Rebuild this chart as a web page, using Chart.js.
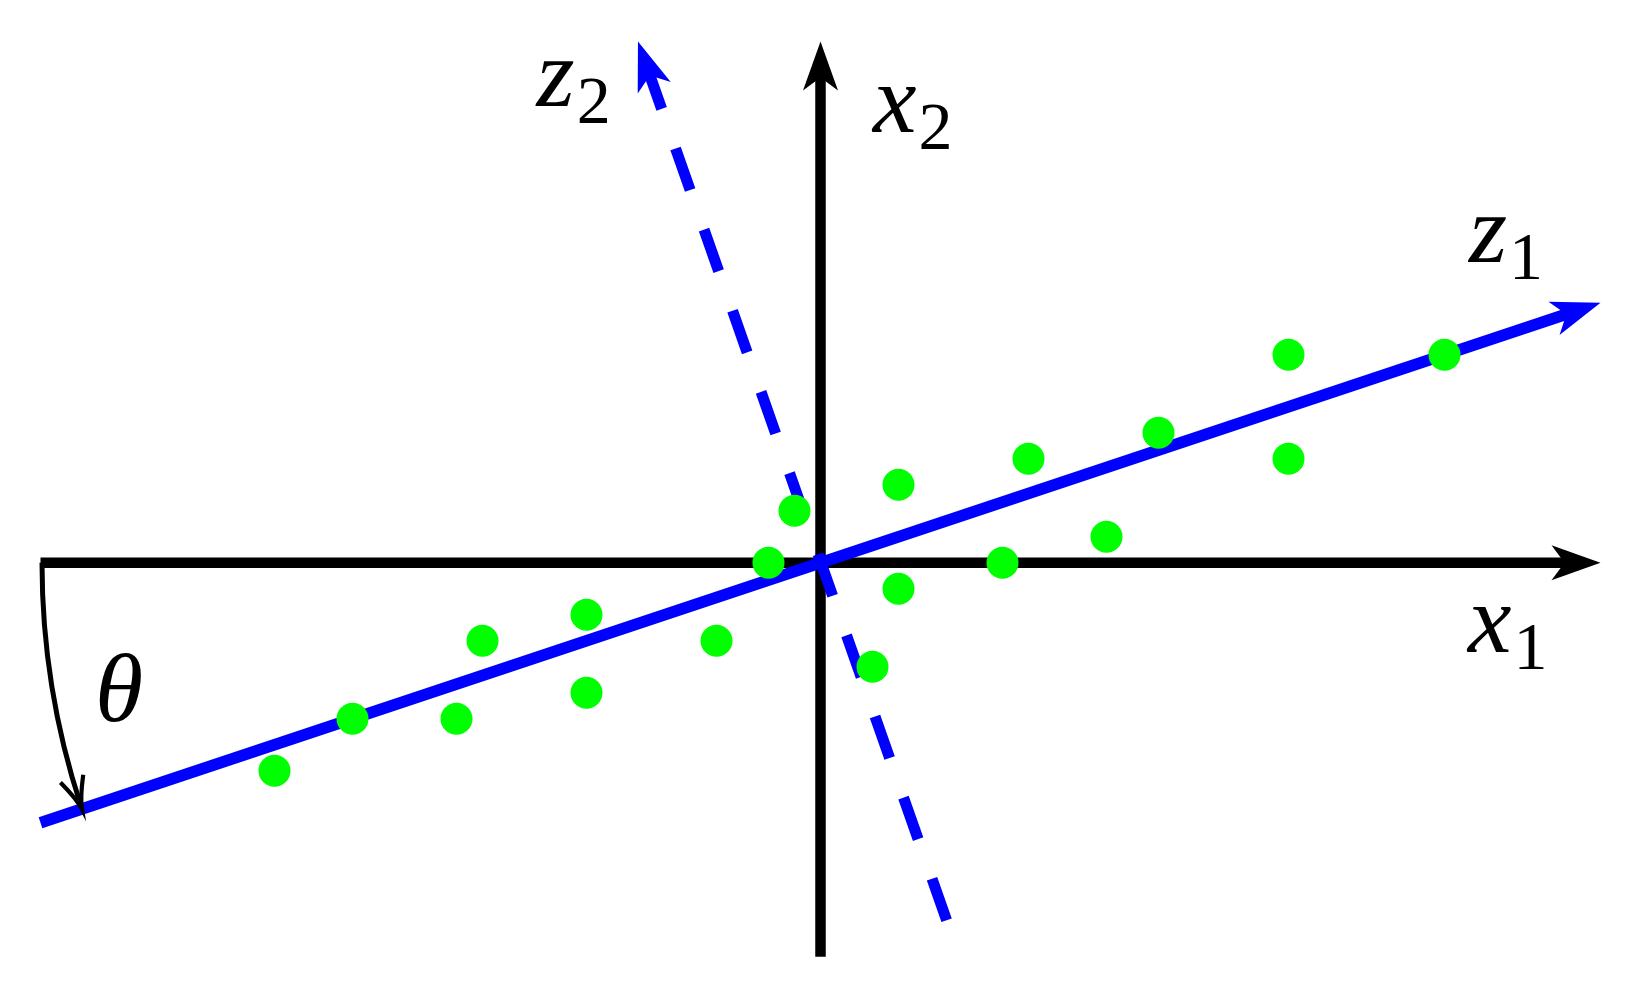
<!DOCTYPE html>
<html><head><meta charset="utf-8">
<script src="https://cdn.jsdelivr.net/npm/chart.js@4.4.1/dist/chart.umd.min.js"></script>
<style>html,body{margin:0;padding:0;background:#fff;overflow:hidden}canvas{display:block}</style>
</head><body>
<canvas id="c" width="1627" height="987"></canvas>
<script>
// sample points in (x1, x2) units
const dotX = [-21, -18, -14, -13, -9, -9, -4, -2, -1, 2, 3, 3, 7, 8, 11, 13, 18, 18, 24];
const dotY = [-8, -6, -6, -3, -2, -5, -3, 0, 2, -4, 3, -1, 0, 4, 1, 5, 8, 4, 8];
// coordinate axes x1, x2 (start -> arrow tip)
const x1AxisX = [-30, 30];
const x1AxisY = [0, 0];
const x2AxisX = [0, 0];
const x2AxisY = [-15.15, 20.05];
// rotated axes z1 (solid) and z2 (dashed) (start -> arrow tip)
const z1X = [-30, 30];
const z1Y = [-10, 10];
const z2X = [4.85, -7.02];
const z2Y = [-13.75, 20.05];
// axis labels
const labelMain = ['x', 'x', 'z', 'z', 'θ'];
const labelSub = ['1', '2', '1', '2', ''];

const BLUE = '#0000ff', GREEN = '#00ff00', BLACK = '#000000';
const HEAD_BACK = 1.3; // shaft stops inside arrow head (data units)

function shaft(xs, ys) {
  const dx = xs[1] - xs[0], dy = ys[1] - ys[0];
  const L = Math.hypot(dx, dy);
  return [{x: xs[0], y: ys[0]}, {x: xs[1] - dx / L * HEAD_BACK, y: ys[1] - dy / L * HEAD_BACK}];
}

const labelPos = [
  {x: 24.9, y: -3.43},   // x1
  {x: 2.02, y: 16.57},   // x2
  {x: 24.94, y: 11.57},  // z1
  {x: -10.92, y: 17.57}, // z2
  {x: -27.9, y: -6.08}   // theta
];

const decor = {
  id: 'decor',
  afterDatasetsDraw(chart) {
    const ctx = chart.ctx, sx = chart.scales.x, sy = chart.scales.y;
    const P = (x, y) => [sx.getPixelForValue(x), sy.getPixelForValue(y)];
    function head(xs, ys, color) {
      const a = P(xs[0], ys[0]), t = P(xs[1], ys[1]);
      let dx = t[0] - a[0], dy = t[1] - a[1];
      const L = Math.hypot(dx, dy); dx /= L; dy /= L;
      const len = 49, hw = 17.5, notch = 13;
      const bx = t[0] - dx * len, by = t[1] - dy * len;
      const nx = t[0] - dx * (len - notch), ny = t[1] - dy * (len - notch);
      ctx.save();
      ctx.fillStyle = color;
      ctx.beginPath();
      ctx.moveTo(t[0], t[1]);
      ctx.lineTo(bx - dy * hw, by + dx * hw);
      ctx.lineTo(nx, ny);
      ctx.lineTo(bx + dy * hw, by - dx * hw);
      ctx.closePath();
      ctx.fill();
      ctx.restore();
    }
    head(x1AxisX, x1AxisY, BLACK);
    head(x2AxisX, x2AxisY, BLACK);
    head(z1X, z1Y, BLUE);
    head(z2X, z2Y, BLUE);

    // theta arc from x1 axis start to z1 start
    const o = P(0, 0), s = P(x1AxisX[0], 0), e = P(z1X[0], z1Y[0]);
    const r = Math.hypot(s[0] - o[0], s[1] - o[1]) - 1.5;
    const a0 = Math.atan2(s[1] - o[1], s[0] - o[0]);
    const a1 = Math.atan2(e[1] - o[1], e[0] - o[0]);
    ctx.save();
    ctx.strokeStyle = BLACK; ctx.lineWidth = 5; ctx.lineCap = 'butt';
    ctx.beginPath();
    ctx.arc(o[0], o[1], r, a0 < 0 ? a0 + 2 * Math.PI : a0, a1 + 0.004, true);
    ctx.stroke();
    // open arrow tip
    const tx = o[0] + r * Math.cos(a1), ty = o[1] + r * Math.sin(a1);
    const fx = Math.sin(a1), fy = -Math.cos(a1); // forward tangent
    const px = -fy, py = fx;
    const bl = 32, bw = 12;
    ctx.lineWidth = 4.2; ctx.lineJoin = 'miter';
    ctx.beginPath();
    ctx.moveTo(tx - fx * bl + px * bw, ty - fy * bl + py * bw);
    ctx.quadraticCurveTo(tx - fx * bl * 0.35 + px * bw * 0.15, ty - fy * bl * 0.35 + py * bw * 0.15, tx, ty);
    ctx.quadraticCurveTo(tx - fx * bl * 0.35 - px * bw * 0.15, ty - fy * bl * 0.35 - py * bw * 0.15, tx - fx * bl - px * bw, ty - fy * bl - py * bw);
    ctx.stroke();
    ctx.restore();

    // labels
    ctx.save();
    ctx.fillStyle = BLACK;
    ctx.textBaseline = 'alphabetic';
    ctx.textAlign = 'left';
    labelMain.forEach((m, i) => {
      const p = P(labelPos[i].x, labelPos[i].y);
      ctx.font = 'italic 98px "Liberation Serif"';
      ctx.fillText(m, p[0], p[1]);
      const w = ctx.measureText(m).width;
      if (labelSub[i]) {
        ctx.font = '68px "Liberation Serif"';
        ctx.fillText(labelSub[i], p[0] + w + 2, p[1] + 17);
      }
    });
    ctx.restore();
  }
};

const lineDs = (data, color, width, dash) => ({
  type: 'scatter', data, showLine: true, borderColor: color, borderWidth: width,
  borderDash: dash || [], borderCapStyle: 'butt', pointRadius: 0, pointHoverRadius: 0,
  tension: 0, fill: false, clip: false
});

new Chart(document.getElementById('c'), {
  type: 'scatter',
  data: {
    datasets: [
      {
        data: dotX.map((x, i) => ({x, y: dotY[i]})),
        pointRadius: 16, pointHoverRadius: 16, pointBackgroundColor: GREEN,
        pointBorderWidth: 0, borderWidth: 0, showLine: false, clip: false
      },
      lineDs(shaft(z1X, z1Y), BLUE, 11.5),
      lineDs(shaft(z2X, z2Y), BLUE, 11, [44, 42]),
      lineDs(shaft(x1AxisX, x1AxisY), BLACK, 10.5),
      lineDs(shaft(x2AxisX, x2AxisY), BLACK, 10.5)
    ]
  },
  options: {
    responsive: false,
    devicePixelRatio: 1,
    animation: false,
    events: [],
    layout: {padding: 0, autoPadding: false},
    plugins: {legend: {display: false}, tooltip: {enabled: false}},
    scales: {
      x: {type: 'linear', display: false, min: -820.5 / 26, max: (1627 - 820.5) / 26},
      y: {type: 'linear', display: false, min: -(987 - 562.8) / 26, max: 562.8 / 26}
    }
  },
  plugins: [decor]
});
</script>
</body></html>
